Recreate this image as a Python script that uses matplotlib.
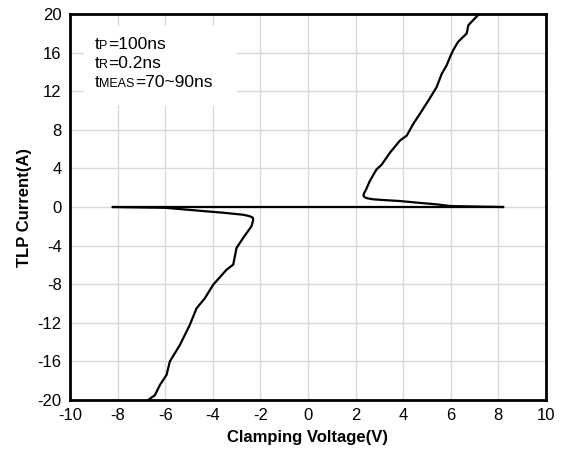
import matplotlib.pyplot as plt
from matplotlib.patches import Rectangle

plt.rcParams['font.family'] = ['Liberation Sans', 'DejaVu Sans']
plt.rcParams['axes.unicode_minus'] = False

# flat part of the trace along I=0
flat_v = [-8.2, 8.2]
flat_i = [0, 0]

# positive branch (snapback curve)
pos_v = [8.2, 6.0, 5.4, 4.6, 3.87, 3.2, 2.74, 2.5, 2.38, 2.33, 2.36, 2.44, 2.6, 2.88, 3.1, 3.45,
         3.87, 4.15, 4.42, 4.7, 5.05, 5.4, 5.62, 5.83, 5.97, 6.1, 6.3, 6.67, 6.74, 6.95, 7.15]
pos_i = [0, 0.1, 0.28, 0.45, 0.62, 0.72, 0.8, 0.9, 1.02, 1.2, 1.45, 1.8, 2.7, 3.9, 4.4, 5.65,
         6.9, 7.4, 8.6, 9.65, 11.0, 12.4, 13.8, 14.7, 15.55, 16.25, 17.1, 18.0, 18.85, 19.4, 19.9]

# negative branch
neg_v = [-8.2, -6.0, -5.24, -4.4, -3.56, -2.72, -2.45, -2.32, -2.3, -2.37, -2.72, -3.0, -3.14,
         -3.42, -3.98, -4.33, -4.68, -4.96, -5.38, -5.8, -5.94, -6.22, -6.43, -6.71]
neg_i = [0, -0.08, -0.24, -0.42, -0.59, -0.8, -0.95, -1.1, -1.35, -1.98, -3.2, -4.24, -5.97,
         -6.5, -8.05, -9.45, -10.5, -12.2, -14.3, -16.0, -17.4, -18.45, -19.5, -20.0]

x_ticks = list(range(-10, 11, 2))
y_ticks = list(range(-20, 21, 4))

fig = plt.figure(figsize=(5.64, 4.55), dpi=100)
ax = fig.add_axes([0.124, 0.121, 0.844, 0.848])

ax.plot(flat_v, flat_i, color='black', lw=1.6, zorder=3)
ax.plot(pos_v, pos_i, color='black', lw=1.6, zorder=3)
ax.plot(neg_v, neg_i, color='black', lw=1.6, zorder=3)

ax.set_xlim(-10, 10)
ax.set_ylim(-20, 20)
ax.set_xticks(x_ticks)
ax.set_yticks(y_ticks)
ax.tick_params(length=0, labelsize=12, pad=6)
ax.grid(True, color='#d9d9d9', lw=1)
ax.set_axisbelow(True)
for s in ax.spines.values():
    s.set_linewidth(2)

ax.set_xlabel('Clamping Voltage(V)', fontsize=12, fontweight='bold', labelpad=5)
ax.set_ylabel('TLP Current(A)', fontsize=12, fontweight='bold', labelpad=4)

# white box behind the test conditions
ax.add_patch(Rectangle((0.03, 0.765), 0.32, 0.205, transform=ax.transAxes,
                       facecolor='white', edgecolor='none', zorder=2))

lines = [('P', '=100ns'), ('R', '=0.2ns'), ('MEAS', '=70~90ns')]
fig.canvas.draw()
r = fig.canvas.get_renderer()
y0 = 0.91
for sub, rest in lines:
    t = ax.text(0.052, y0, 't', transform=ax.transAxes, fontsize=12.5, va='baseline', zorder=4)
    w = t.get_window_extent(r).width
    s = ax.annotate(sub, (0.052, y0), xycoords='axes fraction', xytext=(w * 72 / 100, 0),
                    textcoords='offset points', fontsize=9, va='baseline', zorder=4)
    w2 = s.get_window_extent(r).width
    ax.annotate(rest, (0.052, y0), xycoords='axes fraction', xytext=((w + w2) * 72 / 100, 0),
                textcoords='offset points', fontsize=12.5, va='baseline', zorder=4)
    y0 -= 0.05

fig.savefig('out.png')
